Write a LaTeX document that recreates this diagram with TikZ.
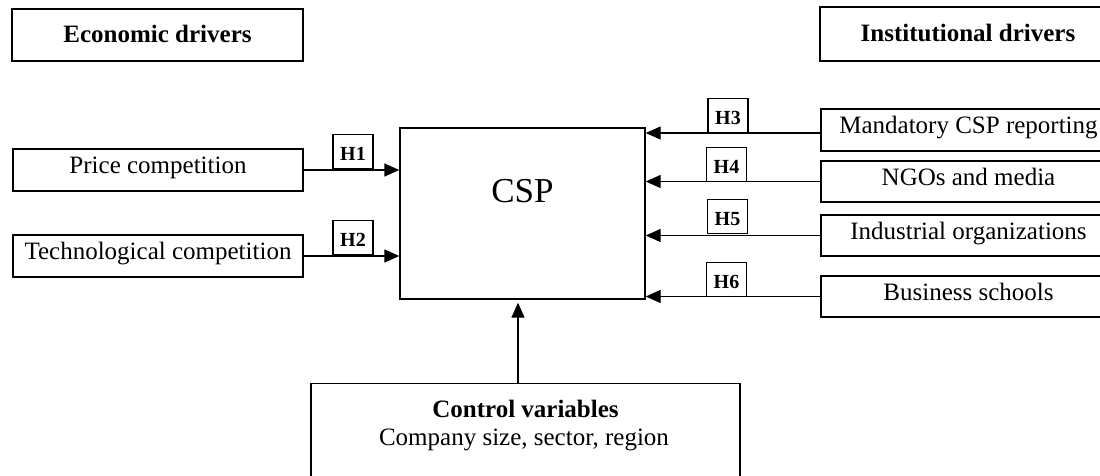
\documentclass[tikz,border=0pt]{standalone}
\usepackage{fontspec}
\setmainfont{Liberation Serif}
\usetikzlibrary{arrows.meta}
\newcommand{\bodysize}{\fontsize{25}{28}\selectfont}
\newcommand{\labsize}{\fontsize{20}{20}\selectfont}
\newcommand{\cspsize}{\fontsize{35}{40}\selectfont}
\tikzset{
  box/.style={draw, line width=1.4pt, inner sep=0pt, font=\bodysize,
              text height=12pt, text depth=5pt},
  headbox/.style={box, font=\bodysize\bfseries, text height=16pt, text depth=0pt},
  hlab/.style={draw, line width=1.2pt, inner sep=0pt, minimum width=40pt,
               minimum height=34pt, font=\labsize\bfseries,
               text height=18pt, text depth=0pt, anchor=south},
  link/.style={line width=1.4pt, -{Triangle[length=15pt,width=13pt]}}
}
\begin{document}
\begin{tikzpicture}[x=1pt,y=-1pt]
\useasboundingbox (0,0) rectangle (1100,476);

% group headings
\node[headbox, minimum width=291pt, minimum height=52pt] (econ) at (157.5,35) {Economic drivers};
\node[headbox, minimum width=296pt, minimum height=54pt] (inst) at (968,34) {Institutional drivers};

% economic drivers
\node[box, minimum width=290pt, minimum height=42pt] (price) at (158,170) {Price competition};
\node[box, minimum width=290pt, minimum height=42pt] (tech) at (158,256) {Technological competition};

% central construct
\node[box, font=\cspsize, minimum width=245pt, minimum height=171pt,
      text height=23pt, text depth=46pt] (csp) at (522.5,213.5) {CSP};

% institutional drivers
\node[box, minimum width=295pt, minimum height=42pt] (mand) at (968.5,130) {Mandatory CSP reporting};
\node[box, minimum width=295pt, minimum height=41pt] (ngo) at (968.5,181.5) {NGOs and media};
\node[box, minimum width=295pt, minimum height=41pt] (ind) at (968.5,235.5) {Industrial organizations};
\node[box, minimum width=295pt, minimum height=41pt] (bus) at (968.5,296.5) {Business schools};

% control variables
\node[box, minimum width=429pt, minimum height=117pt, anchor=north] (ctrl) at (525.5,383) {};
\node[font=\bodysize\bfseries, anchor=base, inner sep=0pt] (ctrltitle) at (525.5,417) {Control variables};
\node[font=\bodysize, anchor=base, inner sep=0pt] (ctrlsub) at (524,445) {Company size, sector, region};

% hypothesis links
\draw[link] (price.east) -- (price.east -| csp.west);
\draw[link] (tech.east) -- (tech.east -| csp.west);
\coordinate (m3) at ([yshift=-3pt]mand.west);
\draw[link] (m3) -- (m3 -| csp.east);
\draw[link] (ngo.west) -- (ngo.west -| csp.east);
\draw[link] (ind.west) -- (ind.west -| csp.east);
\draw[link] (bus.west) -- (bus.west -| csp.east);

\node[hlab] (h1) at (353,169) {H1};
\node[hlab] (h2) at (353,255) {H2};
\node[hlab] (h3) at (728,133) {H3};
\node[hlab] (h4) at (726.5,182) {H4};
\node[hlab] (h5) at (727.5,234) {H5};
\node[hlab] (h6) at (726.5,297) {H6};

% control link
\coordinate (cx) at (518,0);
\draw[link] (ctrl.north -| cx) -- ([yshift=-3pt]csp.south -| cx);
\end{tikzpicture}
\end{document}
